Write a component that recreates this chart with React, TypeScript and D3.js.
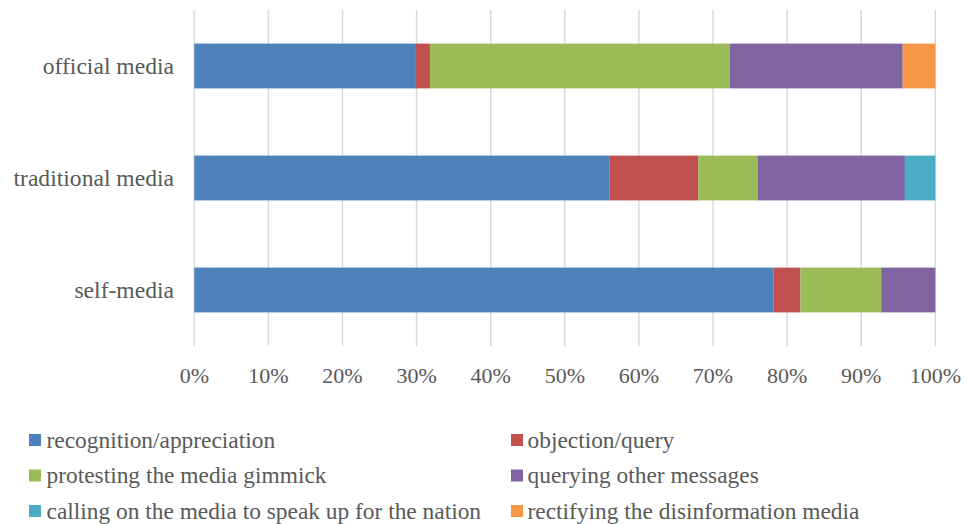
import React from "react";
import * as d3 from "d3";

const categories = ["official media", "traditional media", "self-media"];
const seriesNames = [
  "recognition/appreciation",
  "objection/query",
  "protesting the media gimmick",
  "querying other messages",
  "calling on the media to speak up for the nation",
  "rectifying the disinformation media",
];
const recognition = [29.8, 56.0, 78.2];
const objection = [2.0, 12.0, 3.6];
const protesting = [40.5, 8.0, 10.9];
const querying = [23.3, 19.9, 7.3];
const calling = [0, 4.1, 0];
const rectifying = [4.4, 0, 0];
const colors = ["#4F81BD", "#C0504D", "#9BBB59", "#8064A2", "#4BACC6", "#F79646"];
const ticks = [0, 10, 20, 30, 40, 50, 60, 70, 80, 90, 100];

const W = 964;
const H = 524;
const left = 194.3;
const right = 935.3;
const top = 10;
const bottom = 346;
const textColor = "#595959";
const FONT = "Liberation Serif";

export default function App() {
  const x = d3.scaleLinear().domain([0, 100]).range([left, right]);
  const y = d3
    .scaleBand<string>()
    .domain(categories)
    .range([top, bottom])
    .paddingInner(0.6)
    .paddingOuter(0.3);

  const all = [recognition, objection, protesting, querying, calling, rectifying];
  const table = categories.map((c, i) => {
    const row: any = { category: c };
    seriesNames.forEach((s, j) => (row[s] = all[j][i]));
    return row;
  });
  const stacked = d3.stack<any>().keys(seriesNames)(table);

  const legendRows = [
    [0, 1],
    [2, 3],
    [4, 5],
  ];
  const legendY = [440, 475.5, 511];
  const legendX = [29, 511];
  const legendTextX = [46.5, 527.5];

  return (
    <svg
      width={W}
      height={H}
      className="chart"
      style={{ position: "fixed", left: 0, top: 0, background: "#fff" }}
    >
      <style>{`svg.chart text { font-family: "Liberation Serif", "Times New Roman", serif !important; }`}</style>
      {ticks.map((t) => (
        <line
          key={t}
          x1={x(t)}
          x2={x(t)}
          y1={top}
          y2={bottom}
          stroke="#d9d9d9"
          strokeWidth={1.5}
        />
      ))}
      {stacked.map((layer, j) =>
        layer.map((d, i) =>
          d[1] - d[0] > 0 ? (
            <rect
              key={`${j}-${i}`}
              x={x(d[0])}
              y={y(categories[i])}
              width={x(d[1]) - x(d[0])}
              height={y.bandwidth()}
              fill={colors[j]}
            />
          ) : null
        )
      )}
      {categories.map((c) => (
        <text
          key={c}
          x={174}
          y={(y(c) as number) + y.bandwidth() / 2 + 8}
          textAnchor="end"
          fontFamily={FONT}
          fontSize={23.6}
          fill={textColor}
        >
          {c}
        </text>
      ))}
      {ticks.map((t) => (
        <text
          key={t}
          x={x(t)}
          y={383}
          textAnchor="middle"
          fontFamily={FONT}
          fontSize={22}
          fill={textColor}
        >
          {t}%
        </text>
      ))}
      {legendRows.map((row, r) =>
        row.map((si, c) => (
          <g key={si}>
            <rect
              x={legendX[c]}
              y={legendY[r] - 6}
              width={12}
              height={12}
              fill={colors[si]}
            />
            <text
              x={legendTextX[c]}
              y={legendY[r] + 7.5}
              fontFamily={FONT}
              fontSize={23.4}
              fill={textColor}
            >
              {seriesNames[si]}
            </text>
          </g>
        ))
      )}
    </svg>
  );
}
